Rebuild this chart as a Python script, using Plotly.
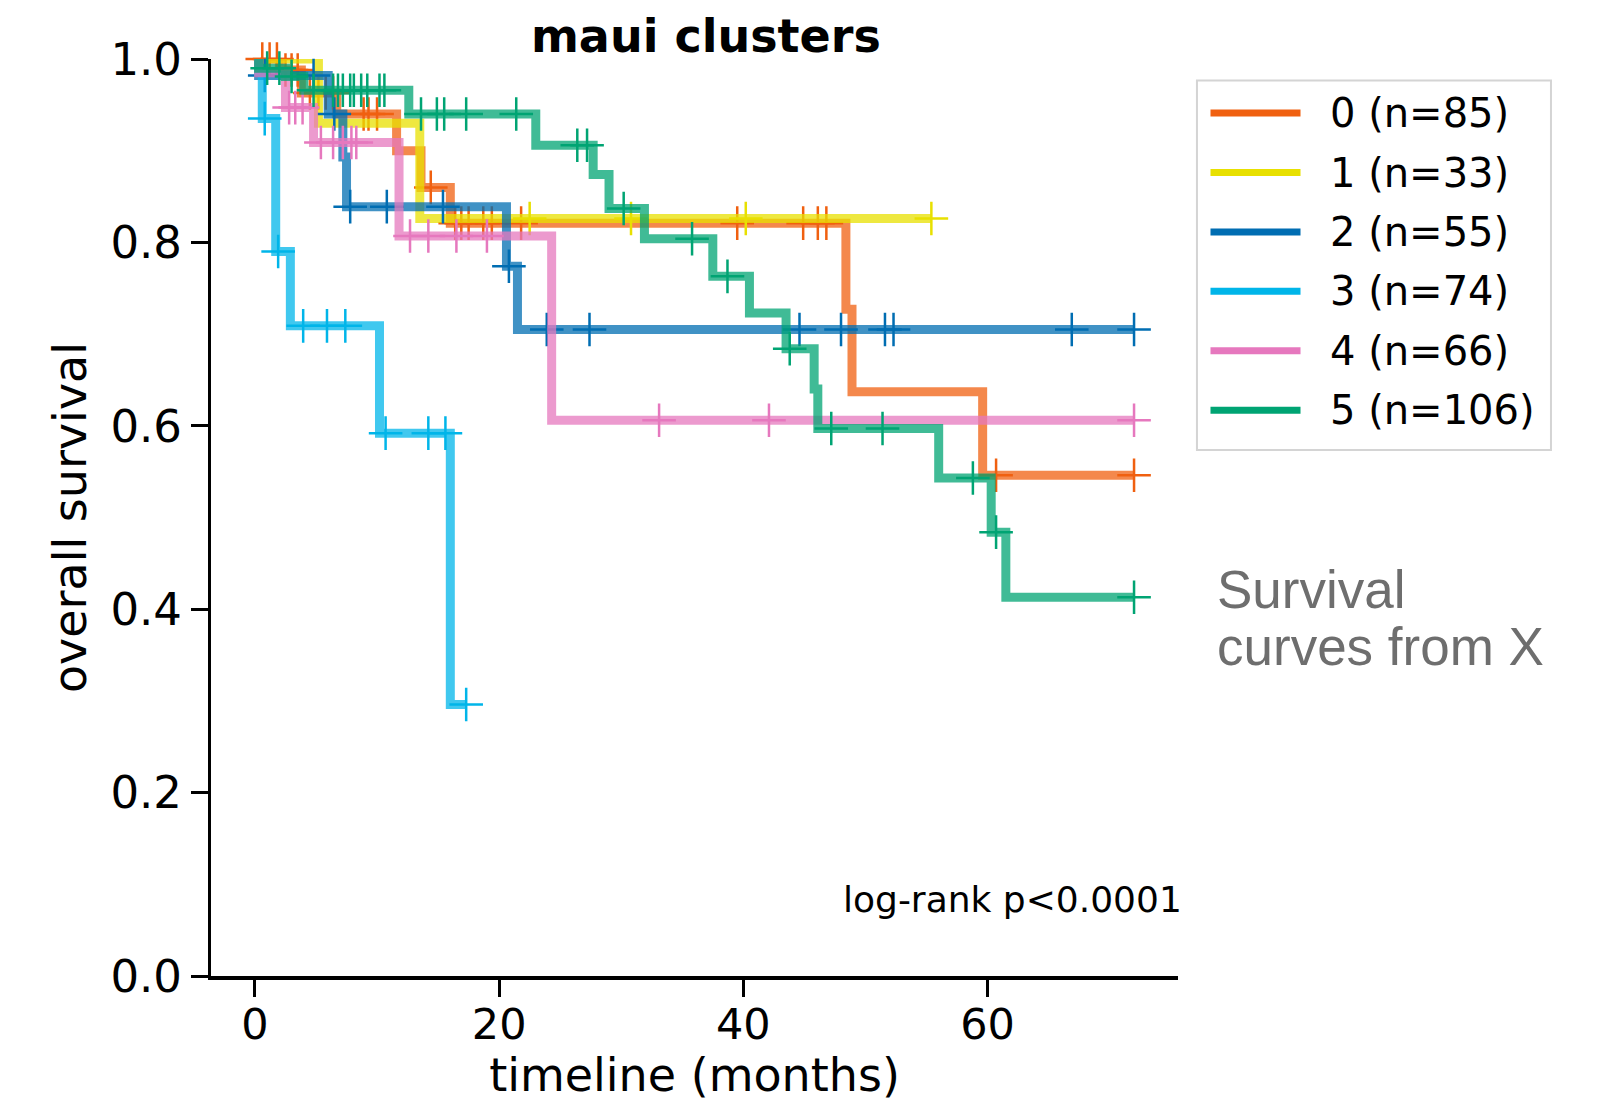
import numpy as np
import plotly.graph_objects as go

# Kaplan-Meier step curves per cluster: event times (months) and survival after each step
labels = ["0 (n=85)", "1 (n=33)", "2 (n=55)", "3 (n=74)", "4 (n=66)", "5 (n=106)"]

t0 = [0, 2.0, 3.8, 6.7, 11.6, 13.6, 16.0, 48.4, 48.9, 59.6]
s0 = [1.0, 0.988, 0.963, 0.940, 0.900, 0.860, 0.821, 0.727, 0.637, 0.546]
c0 = [0.6, 1.2, 1.8, 2.5, 3.0, 3.5, 4.5, 5.2, 5.8, 6.4, 8.9, 9.3, 10.0, 14.4,
      16.4, 16.9, 17.5, 18.7, 19.4, 21.8, 39.5, 44.9, 46.1, 46.8, 60.7, 72.0]

t1 = [0, 5.2, 13.5]
s1 = [1.0, 0.930, 0.826]
c1 = [22.5, 30.8, 40.2, 55.4]

t2 = [0, 0.3, 6.0, 7.2, 7.5, 20.6, 21.5]
s2 = [1.0, 0.982, 0.940, 0.893, 0.839, 0.774, 0.705]
c2 = [0.8, 4.8, 6.5, 7.8, 10.8, 15.4, 20.8, 23.9, 27.4, 44.6, 48.0, 51.6, 52.3,
      66.9, 72.0]

t3 = [0, 0.3, 0.6, 1.7, 2.9, 10.2, 16.0]
s3 = [1.0, 0.986, 0.935, 0.790, 0.709, 0.592, 0.296]
c3 = [0.8, 1.9, 3.95, 5.9, 7.4, 10.7, 14.2, 15.6, 17.3]

t4 = [0, 0.3, 2.5, 4.8, 11.8, 24.3]
s4 = [1.0, 0.985, 0.947, 0.909, 0.807, 0.606]
c4 = [2.8, 3.3, 3.9, 5.4, 6.4, 7.2, 7.9, 8.3, 12.7, 14.2, 16.5, 19.0, 33.1,
      42.1, 72.0]

t5 = [0, 0.3, 2.5, 4.0, 12.6, 23.0, 27.7, 29.0, 31.9, 37.5, 40.5, 43.5, 45.8,
      46.1, 56.0, 60.3, 61.5]
s5 = [1.0, 0.990, 0.981, 0.966, 0.940, 0.906, 0.874, 0.837, 0.804, 0.763,
      0.723, 0.684, 0.640, 0.597, 0.543, 0.484, 0.413]
c5 = [1.0, 2.0, 3.0, 4.8, 6.4, 6.8, 7.2, 7.8, 8.1, 8.7, 9.2, 10.2, 10.6, 13.6,
      14.9, 15.5, 17.3, 21.4, 26.4, 27.2, 30.2, 35.8, 38.7, 43.8, 47.2, 51.4,
      58.8, 60.7, 72.0]

times = [t0, t1, t2, t3, t4, t5]
survival = [s0, s1, s2, s3, s4, s5]
censored = [c0, c1, c2, c3, c4, c5]

colors = ["#F06010", "#E8E000", "#006DB2", "#00B5E9", "#E678BE", "#00A473"]
line_alpha = 0.75

x_ticks = [0, 20, 40, 60]
y_ticks = [0.0, 0.2, 0.4, 0.6, 0.8, 1.0]


def rgba(hex_color, alpha):
    h = hex_color.lstrip("#")
    r, g, b = int(h[0:2], 16), int(h[2:4], 16), int(h[4:6], 16)
    return f"rgba({r},{g},{b},{alpha})"


def step_value(t, s, x):
    idx = np.searchsorted(np.asarray(t), np.asarray(x), side="right") - 1
    return np.asarray(s)[idx]


fig = go.Figure()

for t, s, c, col in zip(times, survival, censored, colors):
    end = max(max(t), max(c))
    fig.add_trace(go.Scatter(
        x=list(t) + [end], y=list(s) + [s[-1]],
        mode="lines", line=dict(color=rgba(col, line_alpha), width=9, shape="hv"),
        showlegend=False, hoverinfo="skip",
    ))
    fig.add_trace(go.Scatter(
        x=c, y=step_value(t, s, c), mode="markers",
        marker=dict(symbol="cross-thin", size=24, color=col,
                    line=dict(color=col, width=2.5)),
        showlegend=False, hoverinfo="skip", cliponaxis=False,
    ))

fig.update_xaxes(
    range=[-3.6, 75.6], tickvals=x_ticks, ticktext=[str(v) for v in x_ticks],
    ticks="outside", ticklen=17, tickwidth=3, tickcolor="black",
    showline=True, linewidth=4, linecolor="black", showgrid=False, zeroline=False,
    automargin=False, ticklabelstandoff=-10,
    tickfont=dict(family="DejaVu Sans", size=43, color="black"),
    title=dict(text="timeline (months)", font=dict(family="DejaVu Sans", size=46, color="black"),
               standoff=18),
)
fig.update_yaxes(
    range=[0, 1], tickvals=y_ticks, ticktext=[f"{v:.1f}" for v in y_ticks],
    ticks="outside", ticklen=17, tickwidth=3, tickcolor="black",
    showline=True, linewidth=3, linecolor="black", showgrid=False, zeroline=False,
    automargin=False,
    tickfont=dict(family="DejaVu Sans", size=45, color="black"),
    title=dict(text="overall survival", font=dict(family="DejaVu Sans", size=46, color="black"),
               standoff=10),
)

# Legend drawn as a framed box with line samples
box_x0, box_x1, box_y0, box_y1 = 1.0196, 1.3857, 0.5736, 0.9766
fig.add_shape(type="rect", xref="paper", yref="paper",
              x0=box_x0, x1=box_x1, y0=box_y0, y1=box_y1,
              line=dict(color="#d4d4d4", width=2), fillcolor="white", layer="below")
row_top, row_step = 0.941, 0.0648
for i, (lab, col) in enumerate(zip(labels, colors)):
    yy = row_top - i * row_step
    fig.add_shape(type="line", xref="paper", yref="paper",
                  x0=1.0336, x1=1.1267, y0=yy, y1=yy,
                  line=dict(color=col, width=7))
    fig.add_annotation(xref="paper", yref="paper", x=1.1555, y=yy,
                       text=lab, showarrow=False, xanchor="left", yanchor="middle",
                       font=dict(family="DejaVu Sans", size=40, color="black"))

fig.add_annotation(xref="paper", yref="paper", x=1.006, y=0.083,
                   text="log-rank p<0.0001", showarrow=False,
                   xanchor="right", yanchor="middle",
                   font=dict(family="DejaVu Sans", size=36, color="black"))

for txt, yy in [("Survival", 0.422), ("curves from X", 0.359)]:
    fig.add_annotation(xref="paper", yref="paper", x=1.038, y=yy, text=txt,
                       showarrow=False, xanchor="left", yanchor="middle",
                       font=dict(family="Liberation Sans", size=53, color="#6e6e6e"))

fig.update_layout(
    width=1597, height=1102,
    margin=dict(l=211, r=419, t=59, b=126, autoexpand=False),
    plot_bgcolor="white", paper_bgcolor="white",
    title=dict(text="<b>maui clusters</b>", xref="container", yref="container",
               x=0.442, y=0.967, xanchor="center", yanchor="middle",
               font=dict(family="DejaVu Sans", size=46, color="black")),
)

fig.write_html("out.html")
